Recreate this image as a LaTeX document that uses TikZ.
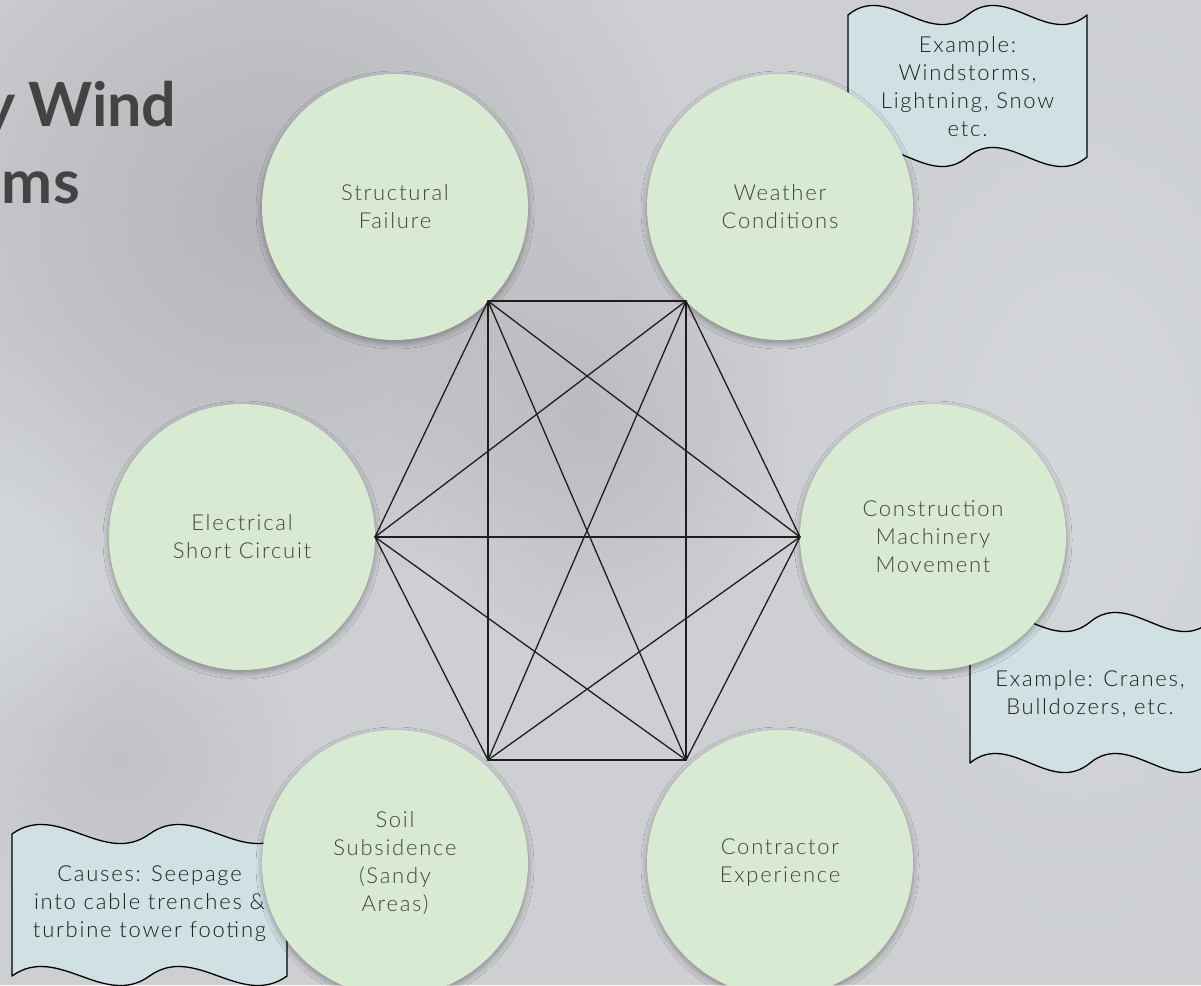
\documentclass[tikz,border=0pt]{standalone}
\usepackage{fontspec}
\setmainfont{Lato}
\newfontfamily\lightface{Lato Light}[LetterSpace=8]
\usetikzlibrary{shadows.blur,fadings}

\definecolor{bgc}{HTML}{CDCFD2}
\definecolor{haze}{HTML}{B5B5BA}
\definecolor{pale}{HTML}{D5D8DA}
\definecolor{causefill}{HTML}{D9EAD3}
\definecolor{causetext}{HTML}{434343}
\definecolor{notefill}{HTML}{D0E0E3}
\definecolor{notetext}{HTML}{1F1F1F}
\definecolor{titlec}{HTML}{434343}
\definecolor{edgec}{HTML}{1E1E1E}

% soft blotches for the blurred backdrop (path box maps to the inner 50bp)
\pgfdeclareradialshading{softshade}{\pgfpointorigin}{color(0bp)=(pgftransparent!0); color(12bp)=(pgftransparent!45); color(25bp)=(pgftransparent!100); color(50bp)=(pgftransparent!100)}
\pgfdeclarefading{softfade}{\pgfuseshading{softshade}}

% wavy note outline: left x, top y, width, height
\newcommand\notewave[4]{%
  \filldraw[noteshape] (#1,#2)
    .. controls ({#1+#3/6},{#2-33}) and ({#1+#3/3},{#2+33}) .. ({#1+#3/2},#2)
    .. controls ({#1+2*#3/3},{#2-33}) and ({#1+5*#3/6},{#2+33}) .. ({#1+#3},#2)
    -- ({#1+#3},{#2+#4})
    .. controls ({#1+5*#3/6},{#2+#4+33}) and ({#1+2*#3/3},{#2+#4-33}) .. ({#1+#3/2},{#2+#4})
    .. controls ({#1+#3/3},{#2+#4+33}) and ({#1+#3/6},{#2+#4-33}) .. (#1,{#2+#4})
    -- cycle;}

\tikzset{
  cause/.style={circle, minimum size=266pt, inner sep=0pt, fill=causefill,
    text=causetext, align=center,
    font=\lightface\fontsize{22}{28}\selectfont,
    blur shadow={shadow xshift=0pt, shadow yshift=-3pt, shadow blur radius=6pt,
      shadow opacity=35, shadow blur steps=8}},
  noteshape/.style={fill=notefill, draw=black, line width=1.3pt, line join=round},
  notelabel/.style={text=notetext, align=center, inner sep=0pt,
    font=\lightface\fontsize{22}{28}\selectfont},
  titlestyle/.style={text=titlec, inner sep=0pt, font=\fontsize{61}{77}\selectfont\bfseries},
  blob/.style={path fading=softfade}
}

\begin{document}
\begin{tikzpicture}[x=1pt,y=-1pt]
\useasboundingbox (0,0) rectangle (1201,985);
\clip (0,0) rectangle (1201,985);

% backdrop
\fill[bgc] (0,0) rectangle (1201,985);
\fill[pale, blob] (1080,470) ellipse [x radius=300, y radius=500];
\fill[pale, blob] (20,560) ellipse [x radius=130, y radius=260];
\fill[haze, blob] (270,210) ellipse [x radius=420, y radius=380];
\fill[haze, blob, opacity=0.7] (590,420) ellipse [x radius=200, y radius=240];
\fill[haze, blob, opacity=0.5] (120,760) ellipse [x radius=180, y radius=160];

% heading, running off the left edge
\node[titlestyle, anchor=base west] (t1) at (28,126) {\llap{y\hspace{13pt}}Wind};
\node[titlestyle, anchor=base east] (t2) at (80,203) {ms};

% notes (behind the circles)
\notewave{848}{15}{239}{142}
\node[notelabel] (n1) at (967.5,87) {Example:\\Windstorms,\\Lightning, Snow\\etc.};
\notewave{970}{622}{240}{141}
\node[notelabel] (n2) at (1090,694) {Example: Cranes,\\Bulldozers, etc.};
\notewave{12}{834}{275}{142}
\node[notelabel] (n3) at (149.5,904) {Causes: Seepage\\into cable trenches \&\\turbine tower footing};

% causes
\node[cause] (sf) at (395,207) {Structural\\Failure};
\node[cause] (wc) at (780,207) {Weather\\Conditions};
\node[cause] (es) at (242,537) {Electrical\\Short Circuit};
\node[cause] (cm) at (933,537) {Construction\\Machinery\\Movement};
\node[cause] (ss) at (395,863) {Soil\\Subsidence\\(Sandy\\Areas)};
\node[cause] (ce) at (780,863) {Contractor\\Experience};

% hexagon corners and every link between them
\coordinate (v1) at (488,301);
\coordinate (v2) at (686,301);
\coordinate (v3) at (800,537);
\coordinate (v4) at (686,760);
\coordinate (v5) at (488,760);
\coordinate (v6) at (375,537);
\foreach \a/\b in {v1/v2,v1/v3,v1/v4,v1/v5,v1/v6,v2/v3,v2/v4,v2/v5,v2/v6,v3/v4,v3/v5,v3/v6,v4/v5,v4/v6,v5/v6}
  \draw[draw=edgec, line width=1.3pt, line cap=round] (\a) -- (\b);
\end{tikzpicture}
\end{document}
